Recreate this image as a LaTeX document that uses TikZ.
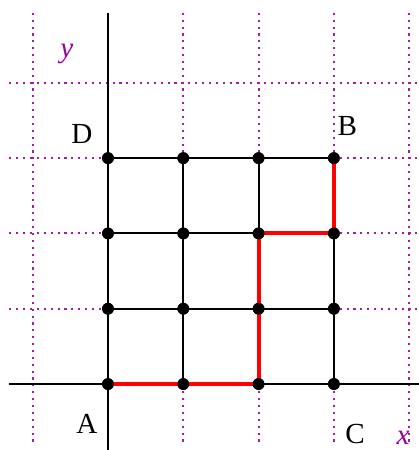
\documentclass[tikz,border=0pt]{standalone}
\usepackage{fontspec}
\setmainfont{Liberation Serif}
\begin{document}
\begin{tikzpicture}[x=1cm,y=1cm,
  guide/.style={draw={rgb,255:red,160;green,30;blue,160}, line width=0.8pt, dash pattern=on 0.8pt off 1.8pt},
  axis/.style={draw=black, line width=0.9pt},
  gridline/.style={draw=black, line width=0.75pt},
  route/.style={draw=red, line width=1.5pt},
  dot/.style={circle, fill=black, inner sep=0pt, minimum size=0.156cm},
  lbl/.style={font=\fontsize{11}{13}\selectfont, anchor=base},
  axlbl/.style={font=\fontsize{11}{13}\selectfont\itshape, text={rgb,255:red,153;green,0;blue,153}, anchor=base}]
\useasboundingbox (-1.434,-0.876) rectangle (4.130,5.100);
% guide lines
\foreach \i in {-1,1,2,3,4} \draw[guide] (\i,4.93) -- (\i,-0.81);
\foreach \j in {1,2,3,4} \draw[guide] (-1.31,\j) -- (4.13,\j);
% axes
\coordinate (xs) at (-1.31,0);
\coordinate (xe) at (4.13,0);
\coordinate (ys) at (0,4.93);
\coordinate (ye) at (0,-0.876);
\draw[axis] (xs) -- (xe);
\draw[axis] (ys) -- (ye);
% dots
\foreach \i in {0,...,3} \foreach \j in {0,...,3} \node[dot] (p\i\j) at (\i,\j) {};
% grid lines
\foreach \j in {0,...,3} \draw[gridline] (p0\j.center) -- (p3\j.center);
\foreach \i in {0,...,3} \draw[gridline] (p\i0.center) -- (p\i3.center);
% red route
\draw[route] (p00.center) -- (p20.center) -- (p22.center) -- (p32.center) -- (p33.center);
% redraw dots on top
\foreach \i in {0,...,3} \foreach \j in {0,...,3} \fill (\i,\j) circle (0.078);
% labels
\node[lbl] (lD) at (-0.345,3.20) {D};
\node[lbl] (lB) at (3.18,3.307) {B};
\node[lbl] (lA) at (-0.28,-0.651) {A};
\node[lbl] (lC) at (3.28,-0.784) {C};
\node[axlbl] (ly) at (-0.545,4.343) {y};
\node[axlbl] (lx) at (3.918,-0.797) {x};
\end{tikzpicture}
\end{document}
